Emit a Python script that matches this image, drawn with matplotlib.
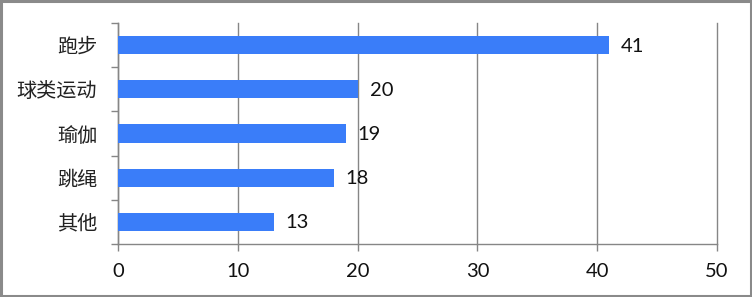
import matplotlib
matplotlib.use("Agg")
import matplotlib.pyplot as plt
from matplotlib.patches import Rectangle
from matplotlib.ticker import FixedLocator

categories = ["跑步", "球类运动", "瑜伽", "跳绳", "其他"]
values = [41, 20, 19, 18, 13]
x_ticks = [0, 10, 20, 30, 40, 50]

plt.rcParams['font.family'] = ['Lato', 'Noto Sans CJK SC', 'DejaVu Sans']

W, H = 752, 297
fig = plt.figure(figsize=(W / 100, H / 100), dpi=100)
left, right, top, bottom = 118, 717, 23, 244
ax = fig.add_axes([left / W, 1 - bottom / H, (right - left) / W, (bottom - top) / H])

n = len(categories)
ypos = list(range(n))[::-1]
bar_col = "#3A7DF9"
ax.barh(ypos, values, height=0.41, color=bar_col, zorder=3)
ax.set_xlim(0, 50)
ax.set_ylim(-0.5, n - 0.5)

ax.set_xticks(x_ticks)
ax.set_xticklabels([str(t) for t in x_ticks], fontsize=14.5, color="#111111")
ax.tick_params(axis='x', length=5, width=1, color="#868686", pad=9)

ax.set_yticks(ypos)
ax.set_yticklabels(categories, fontsize=14.5, color="#222222",
                   family=['Noto Sans CJK SC', 'DejaVu Sans'])
ax.tick_params(axis='y', which='major', length=0, pad=15)
ax.yaxis.set_minor_locator(FixedLocator([i - 0.5 for i in range(n + 1)]))
ax.tick_params(axis='y', which='minor', length=5, width=1, color="#868686")

ax.grid(axis='x', color="#868686", linewidth=1, zorder=0)
for l in ax.get_xgridlines():
    l.set_clip_on(False)
for s in ['top', 'right']:
    ax.spines[s].set_visible(False)
for s in ['left', 'bottom']:
    ax.spines[s].set_color("#868686")
    ax.spines[s].set_linewidth(1)

for y, v in zip(ypos, values):
    ax.annotate(str(v), xy=(v, y), xytext=(12, -1), textcoords='offset pixels',
                va='center', ha='left', fontsize=14.5, color="#111111")

fig.patches.append(Rectangle((0.0015, 0.003), 0.997, 0.994, transform=fig.transFigure,
                             fill=False, edgecolor="#8a8a8a", linewidth=2.2))

fig.savefig("out.png", dpi=100)
